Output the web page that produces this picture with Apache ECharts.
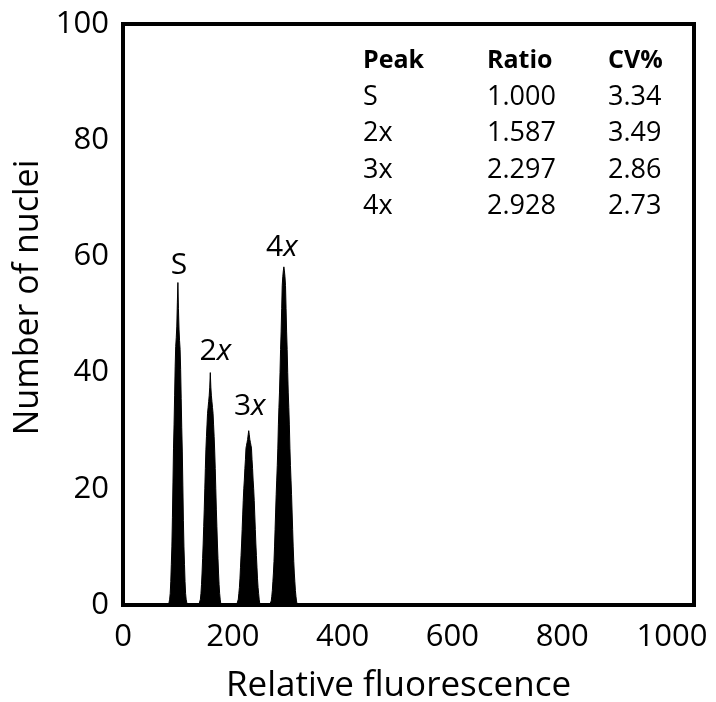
<!DOCTYPE html>
<html><head><meta charset="utf-8">
<script src="https://cdn.jsdelivr.net/npm/echarts@6/dist/echarts.min.js"></script>
<style>html,body{margin:0;padding:0;background:#fff}#c{width:716px;height:702px}</style>
</head><body><div id="c"></div>
<script>
// ---- data ----
const xTicks = [0, 200, 400, 600, 800, 1000];
const yTicks = [0, 20, 40, 60, 80, 100];

const peakS_x = [83,85,86,87,88,89,90,91,92,93,94,95,96,97,98,99,100,101,102,103,104,105,106,107,108,109,110,111,112,113,114,115,117];
const peakS_y = [0,1,2,4,7,10,15,21,27,31,36,41,44.5,46,48,52,55.5,51,47.5,45.5,44,40.5,35.5,30.5,26.5,20.5,14.5,10,7,4,2,1,0];

const peak2x_x = [138,140,141,142,143,144,145,146,147,148,149,150,151,152,153,154,155,156,157,158,159,160,161,162,163,164,165,166,167,168,169,170,171,172,173,174,175,176,177,178,180];
const peak2x_y = [0,0.3,1,2,3.5,5.5,8,10.5,13.5,16.5,20,23.5,26.7,29,31,33,34,35,36,37.5,40,37.5,36,35,34,33,31,29,26.5,23.5,20,16.5,13.5,10.5,8,5.5,3.5,2,1,0.3,0];

const peak3x_x = [207,209,210,211,212,213,214,215,216,217,218,219,220,221,222,223,224,225,226,227,228,229,230,231,232,233,234,235,236,237,238,239,240,241,242,243,244,245,246,247,248,249,251];
const peak3x_y = [0,0.3,1,2,3,4.5,6.5,8.5,10.5,13,15.5,18,20,21.5,23.5,25,27,27.5,28,28.5,29.3,30,29.3,28.5,28,27.5,27,25,23.5,21.5,20,18,15.5,13,10.5,8.5,6.5,4.5,3,2,1,0.3,0];

const peak4x_x = [267,269,270,271,272,273,274,275,276,277,278,279,280,281,282,283,284,285,286,287,288,289,290,291,292,293,294,295,296,297,298,299,300,301,302,303,304,305,306,307,308,309,310,311,312,313,314,315,316,317,319];
const peak4x_y = [0,0.2,0.7,1.5,2.5,4,5.5,7.5,10,13,16,19,21.5,24,27,31,34,36.5,40,44,47,51,55,56.5,57.5,58.2,57.5,56.5,55,51,47,44,40,36.5,34,31,27,24,21.5,19,16,13,10,7.5,5.5,4,2.5,1.5,0.7,0.2,0];

const peakNames = ['S', '2x', '3x', '4x'];
const peakApexX = [100, 159, 229, 293];
const peakApexY = [55.5, 40, 30, 58.2];

const tableHeader = ['Peak', 'Ratio', 'CV%'];
const tablePeak = ['S', '2x', '3x', '4x'];
const tableRatio = ['1.000', '1.587', '2.297', '2.928'];
const tableCV = ['3.34', '3.49', '2.86', '2.73'];

// ---- chart ----
const FONT = 'Open Sans';
const chart = echarts.init(document.getElementById('c'), null, {renderer: 'canvas'});

function zip(xs, ys) { return xs.map((x, i) => [x, ys[i]]); }
function peakSeries(name, xs, ys) {
  return {
    type: 'line', name: name, data: zip(xs, ys),
    showSymbol: false, symbol: 'none', animation: false,
    lineStyle: {color: '#000', width: 1},
    areaStyle: {color: '#000', opacity: 1},
    z: 3
  };
}

const labelStyles = [
  {distance: 2, offset: [1, 0]},
  {distance: 6, offset: [5, 0]},
  {distance: 9, offset: [1, 0]},
  {distance: 4, offset: [-2, 0]}
];
const labelData = peakNames.map((n, i) => ({
  value: [peakApexX[i], peakApexY[i]],
  itemStyle: {opacity: 1},
  label: {
    show: true, position: 'top', color: '#000', opacity: 1,
    distance: labelStyles[i].distance, offset: labelStyles[i].offset,
    formatter: n.length > 1 ? '{n|' + n[0] + '}{i|' + n.slice(1) + '}' : '{n|' + n + '}',
    rich: {
      n: {fontFamily: FONT, fontSize: 30, color: '#000', opacity: 1},
      i: {fontFamily: FONT, fontSize: 30, color: '#000', opacity: 1, fontStyle: 'italic'}
    }
  }
}));

const graphics = [];
const colX = [363, 487, 608];
const rowTop0 = 48;
const rowStep = 36.5;
tableHeader.forEach((h, j) => graphics.push({
  type: 'text', left: colX[j], top: rowTop0,
  style: {text: h, font: 'bold 25px "' + FONT + '"', fill: '#000'}
}));
tablePeak.forEach((p, i) => {
  [p, tableRatio[i], tableCV[i]].forEach((t, j) => graphics.push({
    type: 'text', left: colX[j], top: rowTop0 + rowStep * (i + 1) - 1,
    style: {text: t, font: '27px "' + FONT + '"', fill: '#000'}
  }));
});

const option = {
  animation: false,
  backgroundColor: '#fff',
  grid: {left: 123, top: 24, width: 571, height: 581, show: true, borderColor: '#000', borderWidth: 4, backgroundColor: 'transparent', containLabel: false, outerBoundsMode: 'none'},
  xAxis: {
    type: 'value', min: 0, max: 1040, interval: 200,
    axisLine: {show: false}, axisTick: {show: false}, splitLine: {show: false},
    axisLabel: {
      fontFamily: FONT, fontSize: 31, color: '#000', margin: 17,
      formatter: v => xTicks.indexOf(v) >= 0 ? String(v) : ''
    },
    name: 'Relative fluorescence', nameLocation: 'middle', nameGap: 64,
    nameTextStyle: {fontFamily: FONT, fontSize: 35, color: '#000', padding: [0, 20, 0, 0]}
  },
  yAxis: {
    type: 'value', min: 0, max: 100, interval: 20,
    axisLine: {show: false}, axisTick: {show: false}, splitLine: {show: false},
    axisLabel: {
      fontFamily: FONT, fontSize: 31, color: '#000', margin: 14,
      formatter: v => yTicks.indexOf(v) >= 0 ? String(v) : ''
    },
    name: 'Number of nuclei', nameLocation: 'middle', nameGap: 75, nameRotate: 90,
    nameTextStyle: {fontFamily: FONT, fontSize: 34, color: '#000', padding: [0, 0, 0, 34]}
  },
  series: [
    peakSeries('S', peakS_x, peakS_y),
    peakSeries('2x', peak2x_x, peak2x_y),
    peakSeries('3x', peak3x_x, peak3x_y),
    peakSeries('4x', peak4x_x, peak4x_y),
    {type: 'scatter', data: labelData, symbolSize: 0, silent: true, z: 5, itemStyle: {opacity: 1}}
  ],
  graphic: graphics
};
chart.setOption(option);
</script>
</body></html>
